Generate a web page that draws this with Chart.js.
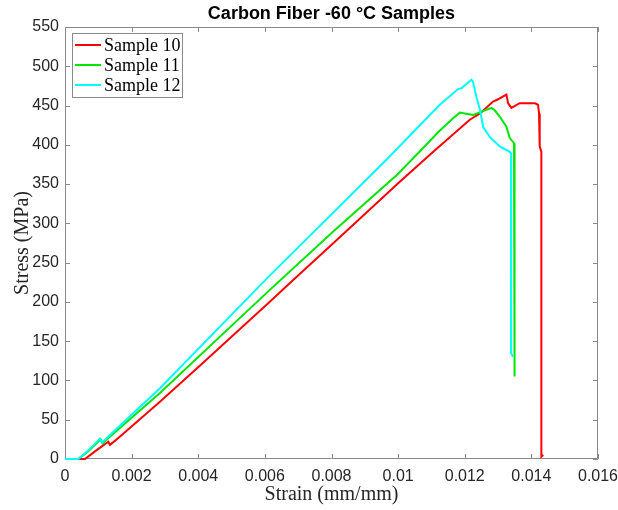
<!DOCTYPE html>
<html>
<head>
<meta charset="utf-8">
<script src="https://cdn.jsdelivr.net/npm/chart.js@4/dist/chart.umd.min.js"></script>
<style>
  html, body { margin: 0; padding: 0; background: #fff; }
  #wrap { width: 618px; height: 510px; }
</style>
</head>
<body>
<div id="wrap"><canvas id="c" width="618" height="510"></canvas></div>
<script>
// ---- Data ----
const seriesNames = ['Sample 10', 'Sample 11', 'Sample 12'];
const seriesColors = ['#ff0000', '#00e600', '#00ffff'];

const sample10Strain = [0, 0.0006, 0.00091, 0.0013, 0.00135, 0.00161, 0.00285, 0.00403, 0.00614, 0.00685, 0.00806, 0.01005, 0.01108, 0.01215, 0.01246, 0.01285, 0.013, 0.01325, 0.0133, 0.0134, 0.01365, 0.0141, 0.0142, 0.01423, 0.01425, 0.0143, 0.0143, 0.01436];
const sample10Stress = [0, 0, 10, 22, 18, 27, 73, 118, 200, 228, 275, 353, 392, 432, 440, 455, 458, 464, 453, 447, 453, 453, 451, 440, 398, 391, 3, 5];

const sample11Strain = [0, 0.0004, 0.0007, 0.00107, 0.00113, 0.00131, 0.00285, 0.00614, 0.00806, 0.00997, 0.01075, 0.0112, 0.0116, 0.01185, 0.012, 0.01225, 0.01249, 0.0128, 0.0129, 0.01305, 0.01325, 0.01335, 0.01348, 0.01349, 0.0135];
const sample11Stress = [0, 0, 10, 25, 20, 27, 84, 215, 290, 362, 396, 416, 432, 441, 440, 438, 442, 447, 444, 436, 423, 409, 402, 390, 105];

const sample12Strain = [0, 0.0004, 0.0007, 0.00105, 0.00111, 0.00131, 0.00285, 0.00604, 0.00967, 0.01125, 0.0118, 0.0119, 0.0122, 0.01225, 0.0123, 0.01235, 0.01246, 0.01255, 0.01275, 0.01305, 0.01335, 0.01339, 0.01339, 0.01345];
const sample12Stress = [0, 0, 11, 26, 21, 29, 90, 229, 382, 451, 471, 472, 483, 480, 470, 461, 444, 423, 410, 398, 391, 389, 135, 130];

const xTickLabels = ['0', '0.002', '0.004', '0.006', '0.008', '0.01', '0.012', '0.014', '0.016'];
const yTickLabels = ['0', '50', '100', '150', '200', '250', '300', '350', '400', '450', '500', '550'];

const chartTitle = 'Carbon Fiber -60 \u00B0C Samples';
const xTitle = 'Strain (mm/mm)';
const yTitle = 'Stress (MPa)';

// ---- Build datasets ----
function pts(xs, ys) { return xs.map((x, i) => ({ x: x, y: ys[i] })); }
const allStrain = [sample10Strain, sample11Strain, sample12Strain];
const allStress = [sample10Stress, sample11Stress, sample12Stress];
const datasets = seriesNames.map((name, i) => ({
  label: name,
  data: pts(allStrain[i], allStress[i]),
  borderColor: seriesColors[i],
  backgroundColor: seriesColors[i],
  borderWidth: 2,
  pointRadius: 0,
  showLine: true,
  tension: 0,
  clip: 4,
  order: seriesNames.length - 1 - i   // later samples drawn on top
}));

const AXIS_GRAY = '#8a8a8a';
const TICK_TEXT = '#262626';

// box + inward ticks on all four sides, legend inside the plot
const boxPlugin = {
  id: 'boxPlugin',
  beforeDatasetsDraw(chart) {
    const { ctx, chartArea: a, scales } = chart;
    ctx.save();
    ctx.strokeStyle = AXIS_GRAY;
    ctx.lineWidth = 1;
    ctx.beginPath();
    ctx.rect(Math.round(a.left) + 0.5, Math.round(a.top) + 0.5, Math.round(a.right - a.left) - 1, Math.round(a.bottom - a.top) - 1);
    ctx.stroke();
    const tl = 5;
    ctx.beginPath();
    scales.x.ticks.forEach(t => {
      const px = Math.round(scales.x.getPixelForValue(t.value)) + 0.5;
      ctx.moveTo(px, a.bottom); ctx.lineTo(px, a.bottom - tl);
      ctx.moveTo(px, a.top); ctx.lineTo(px, a.top + tl);
    });
    scales.y.ticks.forEach(t => {
      const py = Math.round(scales.y.getPixelForValue(t.value)) + 0.5;
      ctx.moveTo(a.left, py); ctx.lineTo(a.left + tl, py);
      ctx.moveTo(a.right, py); ctx.lineTo(a.right - tl, py);
    });
    ctx.stroke();
    ctx.restore();
  },
  afterDraw(chart) {
    const { ctx, chartArea: a } = chart;
    const x0 = a.left + 7, y0 = a.top + 6, w = 110, h = 64;
    ctx.save();
    ctx.fillStyle = '#fff';
    ctx.fillRect(x0, y0, w, h);
    ctx.strokeStyle = AXIS_GRAY;
    ctx.lineWidth = 1;
    ctx.strokeRect(Math.round(x0) + 0.5, Math.round(y0) + 0.5, w, h);
    ctx.font = '18px "Liberation Serif", "Times New Roman", serif';
    ctx.textBaseline = 'middle';
    ctx.fillStyle = '#000';
    seriesNames.forEach((name, i) => {
      const cy = y0 + 12 + i * 20;
      ctx.strokeStyle = seriesColors[i];
      ctx.lineWidth = 2;
      ctx.beginPath();
      ctx.moveTo(x0 + 3, cy); ctx.lineTo(x0 + 29, cy);
      ctx.stroke();
      ctx.fillText(name, x0 + 32, cy + 1);
    });
    ctx.restore();
  }
};

new Chart(document.getElementById('c'), {
  type: 'scatter',
  data: { datasets },
  options: {
    responsive: false,
    animation: false,
    devicePixelRatio: 1,
    layout: { padding: { left: 0, right: 20, top: 0, bottom: 0 } },
    plugins: {
      legend: { display: false },
      tooltip: { enabled: false },
      title: {
        display: true,
        fullSize: false,
        text: chartTitle,
        color: '#000',
        font: { family: '"Liberation Sans", Arial, sans-serif', size: 18, weight: 'bold', lineHeight: 1.2 },
        padding: { top: 3, bottom: 2.4 }
      }
    },
    scales: {
      x: {
        type: 'linear',
        min: 0, max: 0.016,
        grid: { display: false, drawTicks: false },
        border: { display: false },
        ticks: {
          stepSize: 0.002,
          padding: 8,
          color: TICK_TEXT,
          font: { family: '"Liberation Sans", Arial, sans-serif', size: 16 },
          maxRotation: 0,
          autoSkip: false,
          callback: (v, i) => xTickLabels[i]
        },
        title: {
          display: true, text: xTitle, color: TICK_TEXT,
          font: { family: '"Liberation Serif", "Times New Roman", serif', size: 20, lineHeight: 1.2 },
          padding: { top: 0, bottom: 3 }
        },
        afterFit(s) { s.height = 51; s.paddingLeft = 0; s.paddingRight = 0; }
      },
      y: {
        type: 'linear',
        min: 0, max: 550,
        grid: { display: false, drawTicks: false },
        border: { display: false },
        ticks: {
          stepSize: 50,
          padding: 6,
          color: TICK_TEXT,
          font: { family: '"Liberation Sans", Arial, sans-serif', size: 16 },
          autoSkip: false,
          callback: (v, i) => yTickLabels[i]
        },
        title: {
          display: true, text: yTitle, color: TICK_TEXT,
          font: { family: '"Liberation Serif", "Times New Roman", serif', size: 20, lineHeight: 1.2 },
          padding: { top: 11, bottom: 0 }
        },
        afterFit(s) { s.width = 65; s.paddingTop = 0; s.paddingBottom = 0; }
      }
    }
  },
  plugins: [boxPlugin]
});
</script>
</body>
</html>
